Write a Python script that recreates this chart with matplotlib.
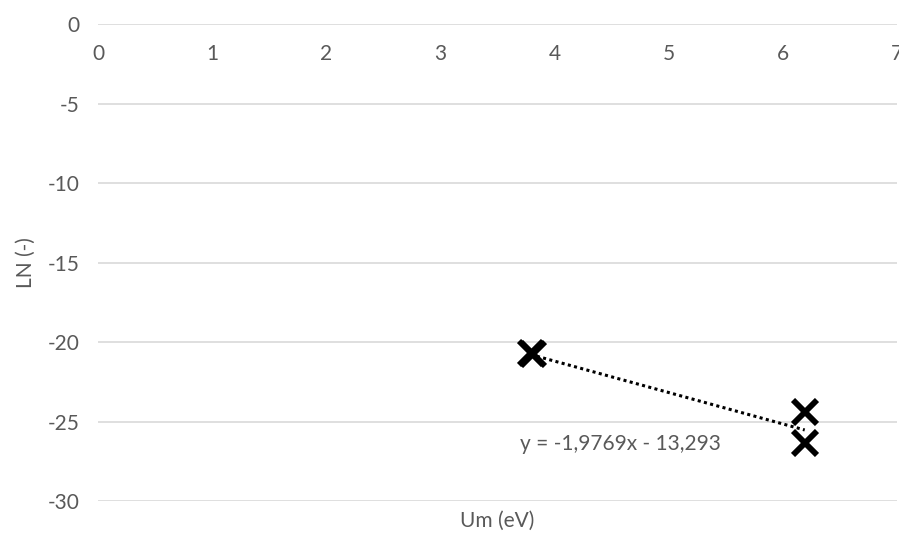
import numpy as np
import matplotlib.pyplot as plt

plt.rcParams['font.family'] = ['Lato', 'DejaVu Sans']
plt.rcParams['axes.unicode_minus'] = False

# data
um = [3.79, 3.81, 6.19, 6.19]
ln = [-20.70, -20.78, -24.40, -26.35]

# Excel trendline (from the label)
panta, interceptie = -1.9769, -13.293
eticheta_ecuatie = 'y = -1,9769x - 13,293'

x_ticks = [0, 1, 2, 3, 4, 5, 6, 7]
y_ticks = [0, -5, -10, -15, -20, -25, -30]

gri_text = '#595959'
gri_grid = '#d9d9d9'
fs = 15

fig = plt.figure(figsize=(8.99, 5.37), dpi=100)
ax = fig.add_axes([0.109, 0.067, 0.889, 0.888])

ax.set_xlim(0, 7)
ax.set_ylim(-30, 0)

# gridlines
for t in y_ticks:
    ax.axhline(t, color=gri_grid, linewidth=1.2, zorder=0)

for s in ax.spines.values():
    s.set_visible(False)

ax.set_yticks(y_ticks)
ax.tick_params(axis='y', length=0, pad=13, labelsize=fs, labelcolor=gri_text)
ax.set_xticks([])

# x tick labels sit under the y=0 line (axis crosses at 0)
for t in x_ticks:
    ax.annotate(str(t), (t, 0), xytext=(0, -14), textcoords='offset points',
                ha='center', va='top', fontsize=fs, color=gri_text,
                annotation_clip=False)

# trendline
xt = np.array([min(um), max(um)])
ax.plot(xt, panta * xt + interceptie, color='black', linewidth=2.2,
        linestyle=(0, (1, 1.1)), zorder=2)

ax.plot(um, ln, linestyle='none', marker='x', markersize=17,
        markeredgewidth=4.2, color='black', zorder=3)

ax.text(4.58, -26.4, eticheta_ecuatie, ha='center', va='center',
        fontsize=fs, color=gri_text)

ax.set_xlabel('Um (eV)', fontsize=fs, color=gri_text, labelpad=7)
ax.set_ylabel('LN (-)', fontsize=fs, color=gri_text, labelpad=9)

fig.savefig('out.png', dpi=100)
